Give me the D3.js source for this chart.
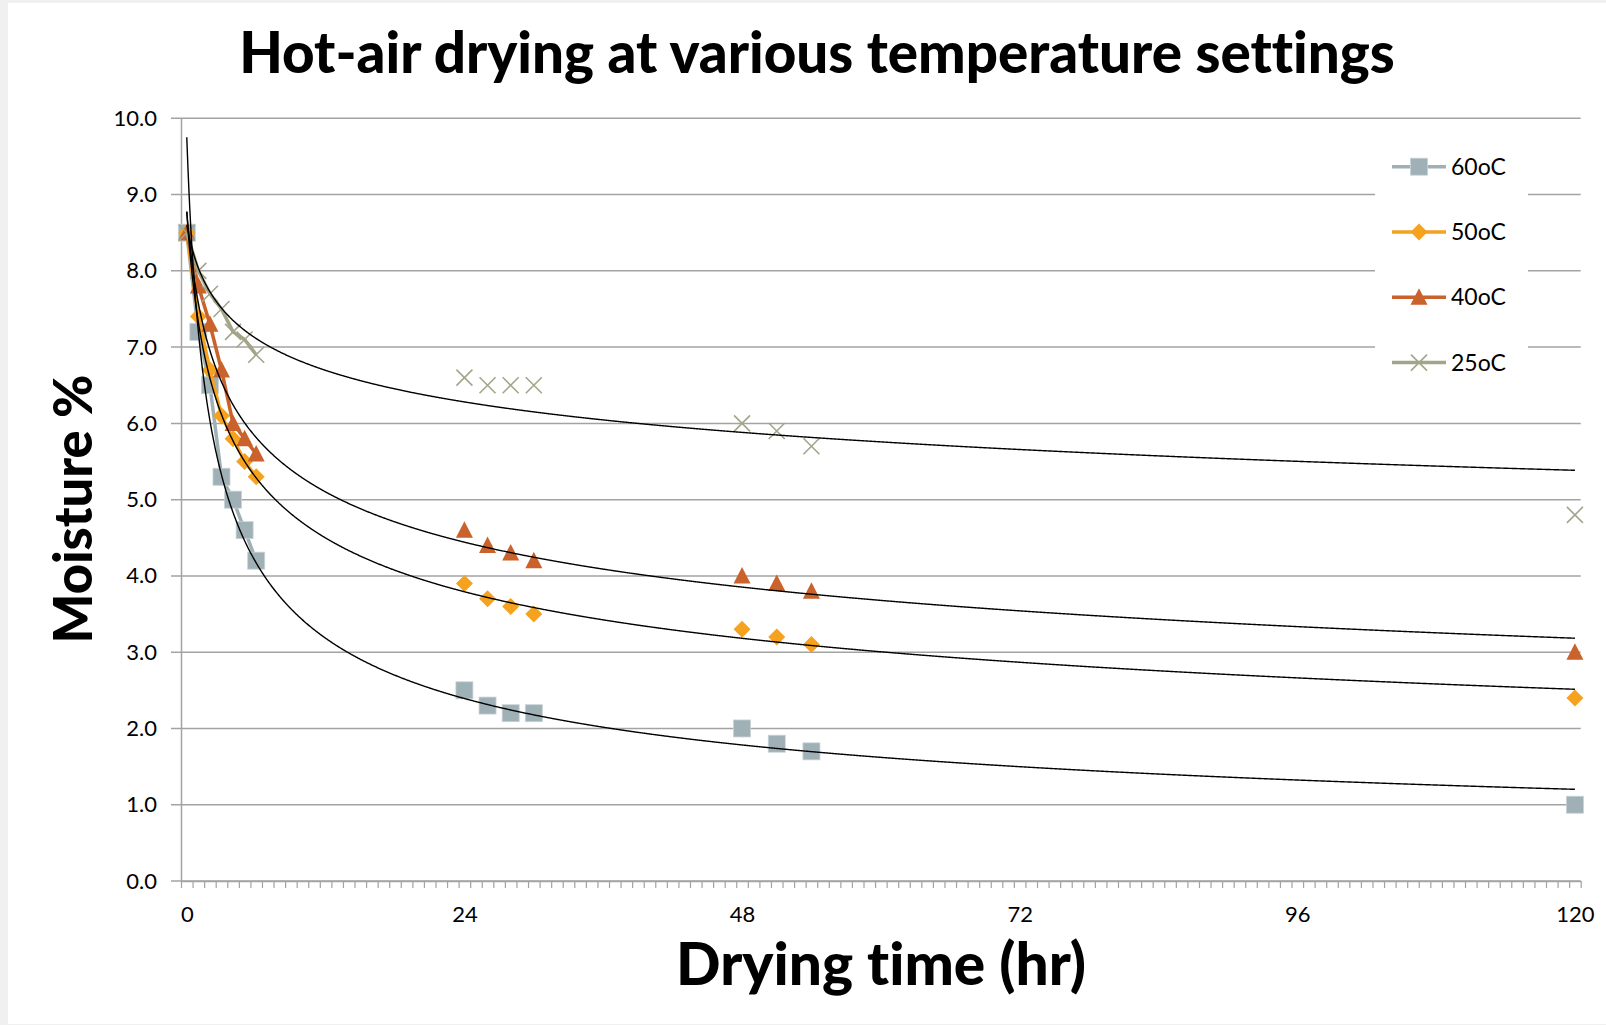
<!DOCTYPE html>
<html>
<head>
<meta charset="utf-8">
<script src="https://cdn.jsdelivr.net/npm/d3@7"></script>
<style>
  html, body { margin: 0; padding: 0; background: #f0f0f0; }
  svg { display: block; font-family: "Lato", "Open Sans", sans-serif; font-variant-ligatures: none; }
</style>
</head>
<body>
<svg id="chart" width="1606" height="1025"></svg>
<script>
/********************************************************
 ********************* Data *****************************
 ********************************************************/
var hours = [0, 1, 2, 3, 4, 5, 6, 24, 26, 28, 30, 48, 51, 54, 120];
var moisture60 = [8.5, 7.2, 6.5, 5.3, 5.0, 4.6, 4.2, 2.5, 2.3, 2.2, 2.2, 2.0, 1.8, 1.7, 1.0];
var moisture50 = [8.5, 7.4, 6.7, 6.1, 5.8, 5.5, 5.3, 3.9, 3.7, 3.6, 3.5, 3.3, 3.2, 3.1, 2.4];
var moisture40 = [8.5, 7.8, 7.3, 6.7, 6.0, 5.8, 5.6, 4.6, 4.4, 4.3, 4.2, 4.0, 3.9, 3.8, 3.0];
var moisture25 = [8.5, 8.0, 7.7, 7.5, 7.2, 7.1, 6.9, 6.6, 6.5, 6.5, 6.5, 6.0, 5.9, 5.7, 4.8];
var seriesNames = ["60oC", "50oC", "40oC", "25oC"];
var xTickLabels = [0, 24, 48, 72, 96, 120];
var yTicks = [0, 1, 2, 3, 4, 5, 6, 7, 8, 9, 10];
var lastHour = 120;

// styling
var colors = ["#9fb0b6", "#f5a21f", "#c9622b", "#a3a58a"];
var symbols = ["square", "diamond", "triangle", "cross"];
var gridColor = "#a3a3a3";

var allSeries = [moisture60, moisture50, moisture40, moisture25];

var svg = d3.select("#chart");
svg.append("rect")
  .attr("x", 8).attr("y", 3)
  .attr("width", 1598).attr("height", 1021)
  .attr("fill", "#ffffff");

var x = d3.scaleLinear().domain([-0.5, lastHour + 0.5]).range([181, 1580.7]);
var y = d3.scaleLinear().domain([0, 10]).range([881, 118.3]);

/********************************************************
 ********************* Grid + axes **********************
 ********************************************************/
svg.append("g")
  .selectAll("line")
  .data(yTicks)
  .enter()
  .append("line")
  .attr("x1", 171).attr("x2", x.range()[1])
  .attr("y1", function(d) { return y(d); })
  .attr("y2", function(d) { return y(d); })
  .attr("stroke", gridColor)
  .attr("stroke-width", 1.5);

var yAxis = svg.append("g")
  .attr("transform", "translate(181,0)")
  .call(d3.axisLeft(y).tickValues(yTicks).tickFormat(d3.format(".1f")).tickSize(0).tickPadding(24));
yAxis.select(".domain").attr("stroke", gridColor).attr("stroke-width", 1.5);
yAxis.selectAll("text").attr("font-size", 22).attr("fill", "#000").attr("font-family", "Lato, 'Open Sans', sans-serif");

// minor tick marks sit between the categories
var minorTicks = d3.range(-0.5, lastHour + 1, 1);
var xMinor = svg.append("g")
  .attr("transform", "translate(0," + y(0) + ")")
  .call(d3.axisBottom(x).tickValues(minorTicks).tickFormat("").tickSize(7).tickSizeOuter(0));
xMinor.select(".domain").attr("stroke", gridColor).attr("stroke-width", 1.5);
xMinor.selectAll(".tick line").attr("stroke", gridColor).attr("stroke-width", 1.2);

var xLabels = svg.append("g")
  .attr("transform", "translate(0," + y(0) + ")")
  .call(d3.axisBottom(x).tickValues(xTickLabels).tickSize(0).tickPadding(25));
xLabels.select(".domain").remove();
xLabels.selectAll("text").attr("font-size", 22).attr("fill", "#000").attr("font-family", "Lato, 'Open Sans', sans-serif");

/********************************************************
 ********************* Series ***************************
 ********************************************************/
// one slot per hour, empty where nothing was measured (gaps like Excel)
function slots(values) {
  var arr = d3.range(0, lastHour + 1).map(function() { return null; });
  hours.forEach(function(h, i) { arr[h] = values[i]; });
  return arr;
}

var line = d3.line()
  .defined(function(d) { return d != null; })
  .x(function(d, i) { return x(i); })
  .y(function(d) { return y(d); });

function drawMarker(g, type, color, cx, cy) {
  if (type == "square") {
    g.append("rect")
      .attr("x", cx - 8.5).attr("y", cy - 8.5)
      .attr("width", 17).attr("height", 17)
      .attr("fill", color).attr("stroke", "#c8d3d6").attr("stroke-width", 0.8);
  } else if (type == "diamond") {
    g.append("path")
      .attr("d", "M" + cx + "," + (cy - 8.5) + "L" + (cx + 8.5) + "," + cy +
        "L" + cx + "," + (cy + 8.5) + "L" + (cx - 8.5) + "," + cy + "Z")
      .attr("fill", color);
  } else if (type == "triangle") {
    g.append("path")
      .attr("d", "M" + cx + "," + (cy - 9) + "L" + (cx + 8.5) + "," + (cy + 7.5) +
        "L" + (cx - 8.5) + "," + (cy + 7.5) + "Z")
      .attr("fill", color);
  } else {
    g.append("path")
      .attr("d", "M" + (cx - 8) + "," + (cy - 8) + "L" + (cx + 8) + "," + (cy + 8) +
        "M" + (cx + 8) + "," + (cy - 8) + "L" + (cx - 8) + "," + (cy + 8))
      .attr("stroke", color).attr("stroke-width", 1.6).attr("fill", "none");
  }
}

allSeries.forEach(function(values, s) {
  var g = svg.append("g");
  g.append("path")
    .datum(slots(values))
    .attr("d", line)
    .attr("fill", "none")
    .attr("stroke", colors[s])
    .attr("stroke-width", 3.5)
    .attr("stroke-linejoin", "round")
    .attr("stroke-linecap", "butt");
  hours.forEach(function(h, i) {
    drawMarker(g, symbols[s], colors[s], x(h), y(values[i]));
  });
});

/********************************************************
 ********************* Power trendlines *****************
 ********************************************************/
// Excel style: category number (1-based) as x, fit ln(y) = ln(c) + b ln(x)
function powerFit(values) {
  var lx = hours.map(function(h) { return Math.log(h + 1); });
  var ly = values.map(function(v) { return Math.log(v); });
  var mx = d3.mean(lx), my = d3.mean(ly);
  var sxy = 0, sxx = 0;
  for (var i = 0; i < lx.length; i++) {
    sxy += (lx[i] - mx) * (ly[i] - my);
    sxx += (lx[i] - mx) * (lx[i] - mx);
  }
  var b = sxy / sxx;
  var c = Math.exp(my - b * mx);
  return function(h) { return c * Math.pow(h + 1, b); };
}

var trendLine = d3.line()
  .x(function(d) { return x(d[0]); })
  .y(function(d) { return y(d[1]); });

allSeries.forEach(function(values) {
  var f = powerFit(values);
  var pts = d3.range(0, lastHour + 0.001, 0.05).map(function(h) { return [h, f(h)]; });
  svg.append("path")
    .attr("d", trendLine(pts))
    .attr("fill", "none")
    .attr("stroke", "#000")
    .attr("stroke-width", 1.4);
});

/********************************************************
 ********************* Legend ***************************
 ********************************************************/
svg.append("rect")
  .attr("x", 1375).attr("y", 140)
  .attr("width", 153).attr("height", 245)
  .attr("fill", "#ffffff");

seriesNames.forEach(function(name, s) {
  var ly = 166.7 + s * 65.3;
  var g = svg.append("g");
  g.append("line")
    .attr("x1", 1392).attr("x2", 1446)
    .attr("y1", ly).attr("y2", ly)
    .attr("stroke", colors[s]).attr("stroke-width", 3.5);
  drawMarker(g, symbols[s], colors[s], 1419, ly);
  g.append("text")
    .attr("x", 1451).attr("y", ly)
    .attr("dy", "0.35em")
    .attr("font-size", 23)
    .text(name);
});

/********************************************************
 ********************* Titles ***************************
 ********************************************************/
function fitText(t, width) {
  var w = t.node().getComputedTextLength();
  var fs = parseFloat(t.attr("font-size"));
  t.attr("font-size", fs * width / w);
}

var title = svg.append("text")
  .attr("x", 817).attr("y", 73)
  .attr("text-anchor", "middle")
  .attr("font-size", 50)
  .attr("font-weight", 900)
  .text("Hot-air drying at various temperature settings");
fitText(title, 1156);

var xTitle = svg.append("text")
  .attr("x", 881).attr("y", 985)
  .attr("text-anchor", "middle")
  .attr("font-size", 48)
  .attr("font-weight", 900)
  .text("Drying time (hr)");
fitText(xTitle, 410);

var yTitle = svg.append("text")
  .attr("transform", "translate(92,509) rotate(-90)")
  .attr("text-anchor", "middle")
  .attr("font-size", 48)
  .attr("font-weight", 900)
  .text("Moisture %");
fitText(yTitle, 269);
</script>
</body>
</html>
